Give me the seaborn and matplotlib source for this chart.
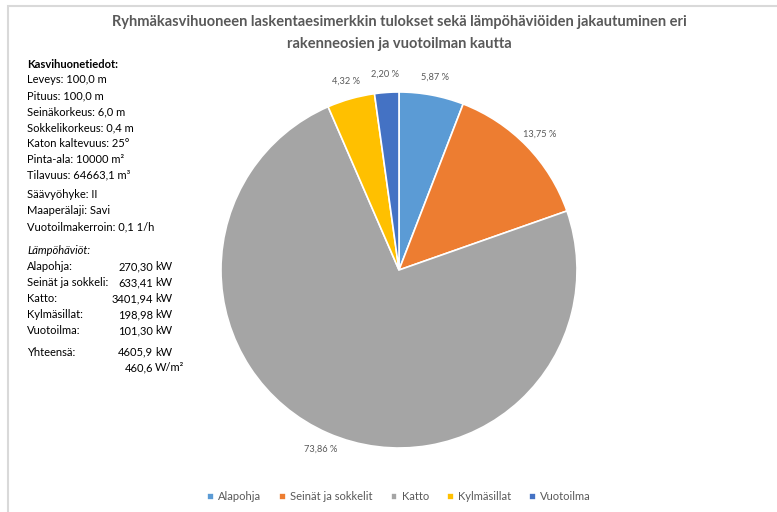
import matplotlib
matplotlib.use("Agg")
import matplotlib.pyplot as plt
from matplotlib.patches import Rectangle
import seaborn as sns

sns.set_theme(style="white")
plt.rcParams['font.family'] = ['Lato', 'DejaVu Sans']

categories = ["Alapohja", "Seinät ja sokkelit", "Katto", "Kylmäsillat", "Vuotoilma"]
shares = [5.87, 13.75, 73.86, 4.32, 2.20]
colors = ["#5B9BD5", "#ED7D31", "#A5A5A5", "#FFC000", "#4472C4"]

info_lines = ["Leveys: 100,0 m", "Pituus: 100,0 m", "Seinäkorkeus: 6,0 m",
              "Sokkelikorkeus: 0,4 m", "Katon kaltevuus: 25°",
              "Pinta-ala: 10000 m²", "Tilavuus: 64663,1 m³"]
site_lines = ["Säävyöhyke: II", "Maaperälaji: Savi", "Vuotoilmakerroin: 0,1 1/h"]
loss_names = ["Alapohja:", "Seinät ja sokkeli:", "Katto:", "Kylmäsillat:", "Vuotoilma:"]
loss_values = ["270,30", "633,41", "3401,94", "198,98", "101,30"]

W, H = 777, 512
fig = plt.figure(figsize=(W / 100, H / 100), dpi=100)
fig.patch.set_facecolor("white")

# border
fig.add_artist(Rectangle((8 / W, -0.05), 1.2, 1 - 6 / H + 0.05, transform=fig.transFigure,
                         fill=False, edgecolor="#D9D9D9", linewidth=1.5))

cx, cy, r = 399, 270, 178
ax = fig.add_axes([(cx - r) / W, (H - cy - r) / H, 2 * r / W, 2 * r / H])
sns.despine(ax=ax, left=True, bottom=True)
wedges, texts, autotexts = ax.pie(
    shares, colors=colors, startangle=90, counterclock=False,
    autopct=lambda p: f"{p:.2f}".replace(".", ",") + " %", pctdistance=1.1,
    wedgeprops=dict(edgecolor="white", linewidth=1.2),
    textprops=dict(color="#595959", fontsize=6.7))
ax.set_xlim(-1, 1)
ax.set_ylim(-1, 1)
ax.axis("off")

gray = "#595959"
fig.text(cx / W, 1 - 22 / H,
         "Ryhmäkasvihuoneen laskentaesimerkkin tulokset sekä lämpöhäviöiden jakautuminen eri",
         ha="center", va="center", fontsize=10.5, fontweight="bold", color=gray)
fig.text(cx / W, 1 - 44 / H, "rakenneosien ja vuotoilman kautta",
         ha="center", va="center", fontsize=10.5, fontweight="bold", color=gray)

x0 = 27 / W
fs = 8
step = 15.9
y = 64
fig.text(x0, 1 - y / H, "Kasvihuonetiedot:", fontsize=fs, fontweight="bold", color="black", va="center")
for line in info_lines:
    y += step
    fig.text(x0, 1 - y / H, line, fontsize=fs, color="black", va="center")
y = 195
for line in site_lines:
    fig.text(x0, 1 - y / H, line, fontsize=fs, color="black", va="center")
    y += step
y = 251
fig.text(x0, 1 - y / H, "Lämpöhäviöt:", fontsize=fs, style="italic", color="black", va="center")
vx, ux = 153, 155
for name, val in zip(loss_names, loss_values):
    y += step
    fig.text(x0, 1 - y / H, name, fontsize=fs, color="black", va="center")
    fig.text(vx / W, 1 - y / H, val, fontsize=fs, color="black", va="center", ha="right")
    fig.text(ux / W, 1 - y / H, "kW", fontsize=fs, color="black", va="center")
y = 352
fig.text(x0, 1 - y / H, "Yhteensä:", fontsize=fs, color="black", va="center")
fig.text(vx / W, 1 - y / H, "4605,9", fontsize=fs, color="black", va="center", ha="right")
fig.text(ux / W, 1 - y / H, "kW", fontsize=fs, color="black", va="center")
y += step
fig.text(vx / W, 1 - y / H, "460,6", fontsize=fs, color="black", va="center", ha="right")
fig.text(ux / W, 1 - y / H, "W/m²", fontsize=fs, color="black", va="center")

leg = fig.legend(wedges, categories, loc="center", bbox_to_anchor=(cx / W, 1 - 497 / H),
                 ncol=5, frameon=False, fontsize=8, handlelength=0.6, handleheight=0.6,
                 handletextpad=0.4, columnspacing=1.6, labelcolor=gray)

fig.savefig("out.png", dpi=100, facecolor="white")
